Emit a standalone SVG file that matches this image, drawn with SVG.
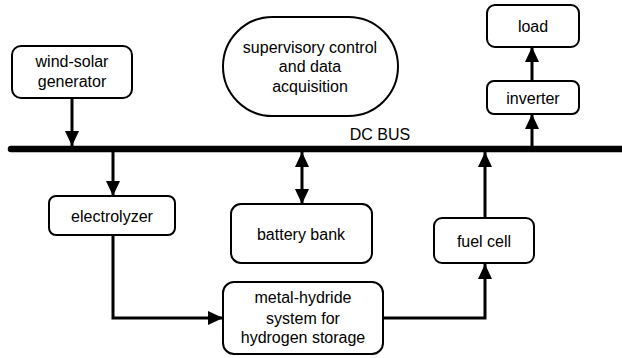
<svg xmlns="http://www.w3.org/2000/svg" width="622" height="358" viewBox="0 0 622 358">
<style>
.box{fill:#fff;stroke:#000;stroke-width:2}
.t{font-family:"Liberation Sans",Arial,sans-serif;font-size:16px;fill:#000;text-anchor:middle}
.c{fill:none;stroke:#000;stroke-width:3}
</style>
<defs>
<marker id="ah" markerUnits="userSpaceOnUse" markerWidth="15" markerHeight="14" refX="15" refY="7" orient="auto-start-reverse" viewBox="0 0 15 14">
<path d="M0,0 L15,7 L0,14 z" fill="#000"/>
</marker>
</defs>
<rect width="622" height="358" fill="#fff"/>
<g id="bus">
<line x1="11" y1="149" x2="625" y2="149" stroke="#000" stroke-width="6.5" stroke-linecap="round"/>
<text class="t" x="380" y="140">DC BUS</text>
</g>
<g id="connectors">
<path class="c" d="M72,98 V146" marker-end="url(#ah)"/>
<path class="c" d="M113,152 V196" marker-end="url(#ah)"/>
<path class="c" d="M302,152 V204" marker-start="url(#ah)" marker-end="url(#ah)"/>
<path class="c" d="M113,235 V318 H223" marker-end="url(#ah)"/>
<path class="c" d="M383,318 H485 V264" marker-end="url(#ah)"/>
<path class="c" d="M485,218 V152" marker-end="url(#ah)"/>
<path class="c" d="M532,146 V114" marker-end="url(#ah)"/>
<path class="c" d="M532,81 V47" marker-end="url(#ah)"/>
</g>
<g id="wind-solar">
<rect class="box" x="12" y="46" width="120" height="52" rx="9"/>
<text class="t" x="72" y="67">wind-solar</text>
<text class="t" x="72" y="87">generator</text>
</g>
<g id="scada">
<rect class="box" x="223" y="17" width="175" height="99" rx="49.5"/>
<text class="t" x="310" y="53">supervisory control</text>
<text class="t" x="310" y="72">and data</text>
<text class="t" x="310" y="92">acquisition</text>
</g>
<g id="load">
<rect class="box" x="487" y="5" width="92" height="42" rx="8"/>
<text class="t" x="533" y="32">load</text>
</g>
<g id="inverter">
<rect class="box" x="487" y="81" width="92" height="33" rx="7"/>
<text class="t" x="533" y="104">inverter</text>
</g>
<g id="electrolyzer">
<rect class="box" x="49" y="196" width="126" height="39" rx="7"/>
<text class="t" x="112" y="222">electrolyzer</text>
</g>
<g id="battery">
<rect class="box" x="231" y="204" width="141" height="59" rx="10"/>
<text class="t" x="301" y="240">battery bank</text>
</g>
<g id="fuelcell">
<rect class="box" x="434" y="218" width="100" height="45" rx="8"/>
<text class="t" x="484" y="247">fuel cell</text>
</g>
<g id="metalhydride">
<rect class="box" x="223" y="282" width="160" height="72" rx="11"/>
<text class="t" x="303" y="303">metal-hydride</text>
<text class="t" x="303" y="324">system for</text>
<text class="t" x="303" y="343">hydrogen storage</text>
</g>
</svg>
